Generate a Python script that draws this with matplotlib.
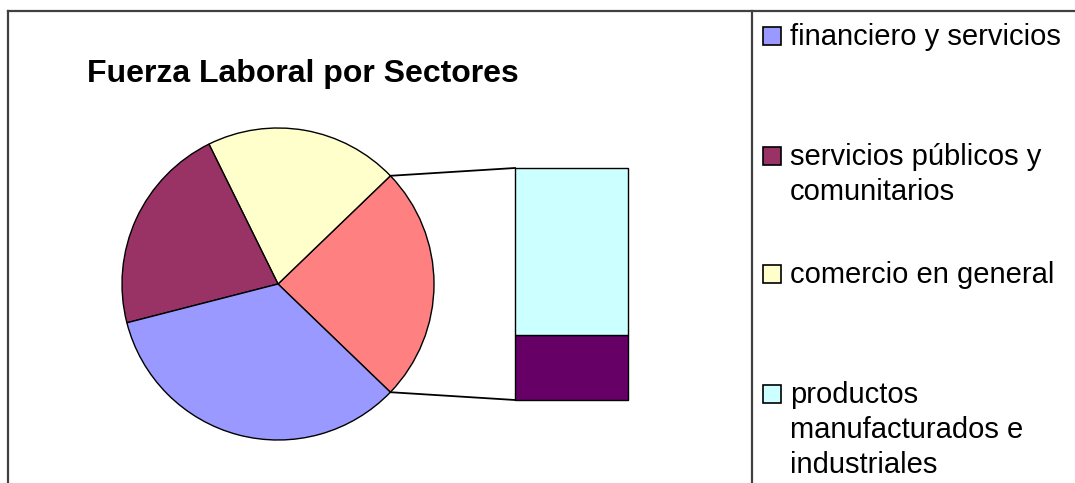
import numpy as np
import matplotlib.pyplot as plt
from matplotlib.patches import Rectangle

# data (percent of the labour force)
sectores = ['financiero y servicios', 'servicios públicos y\ncomunitarios',
            'comercio en general', 'productos\nmanufacturados e\nindustriales']
valores = [33.8, 21.7, 20.1, 17.6]
otro = 6.8          # second part of the bar, not shown in the legend
colores = ['#9999FF', '#993366', '#FFFFCC', '#CCFFFF']
color_resto = '#FF8080'
color_otro = '#660066'
titulo = 'Fuerza Laboral por Sectores'

plt.rcParams['font.family'] = ['Liberation Sans', 'DejaVu Sans']

W, H = 1075, 483
fig = plt.figure(figsize=(W / 100, H / 100), dpi=100)
ax = fig.add_axes([0, 0, 1, 1])

# pie: the "rest" slice (productos + otro) is split out into the bar
resto = valores[3] + otro
pie_vals = [resto, valores[2], valores[1], valores[0]]
pie_cols = [color_resto, colores[2], colores[1], colores[0]]
half = resto / 100 * 360 / 2
cx, cy, r = 278, 199, 156
ax.pie(pie_vals, colors=pie_cols, startangle=-half, counterclock=True,
       center=(cx, cy), radius=r, frame=True,
       wedgeprops=dict(edgecolor='black', linewidth=1.0))
ax.set_xlim(0, W)
ax.set_ylim(0, H)
ax.set_aspect('equal')
ax.axis('off')

# bar of the split slice
bx, bw, by, bh = 515, 113, 83, 232
k = bh / resto
ax.bar(bx, otro * k, width=bw, bottom=by, align='edge',
       color=color_otro, edgecolor='black', linewidth=1.0)
ax.bar(bx, valores[3] * k, width=bw, bottom=by + otro * k, align='edge',
       color=colores[3], edgecolor='black', linewidth=1.0)

# connector lines
a = np.radians(half)
ax.plot([cx + r * np.cos(a), bx], [cy + r * np.sin(a), by + bh],
        color='black', linewidth=1.3)
ax.plot([cx + r * np.cos(a), bx], [cy - r * np.sin(a), by],
        color='black', linewidth=1.3)

# title
ax.text(87, H - 82, titulo, fontsize=23, fontweight='bold', va='baseline')

# frame lines
ax.plot([8, W], [H - 11, H - 11], color='#404040', linewidth=1.6)
ax.plot([8, 8], [0, H - 11], color='#404040', linewidth=1.6)
ax.plot([752, 752], [0, H - 11], color='#404040', linewidth=1.6)

# legend
baselines = [45, 165, 283, 403]
for lab, col, yb in zip(sectores, colores, baselines):
    ax.add_patch(Rectangle((763, H - yb), 18, 18, facecolor=col,
                           edgecolor='black', linewidth=1.2))
    for i, line in enumerate(lab.split('\n')):
        ax.text(790, H - yb - 35 * i, line, fontsize=21, va='baseline')

fig.savefig('out.png', dpi=100)
